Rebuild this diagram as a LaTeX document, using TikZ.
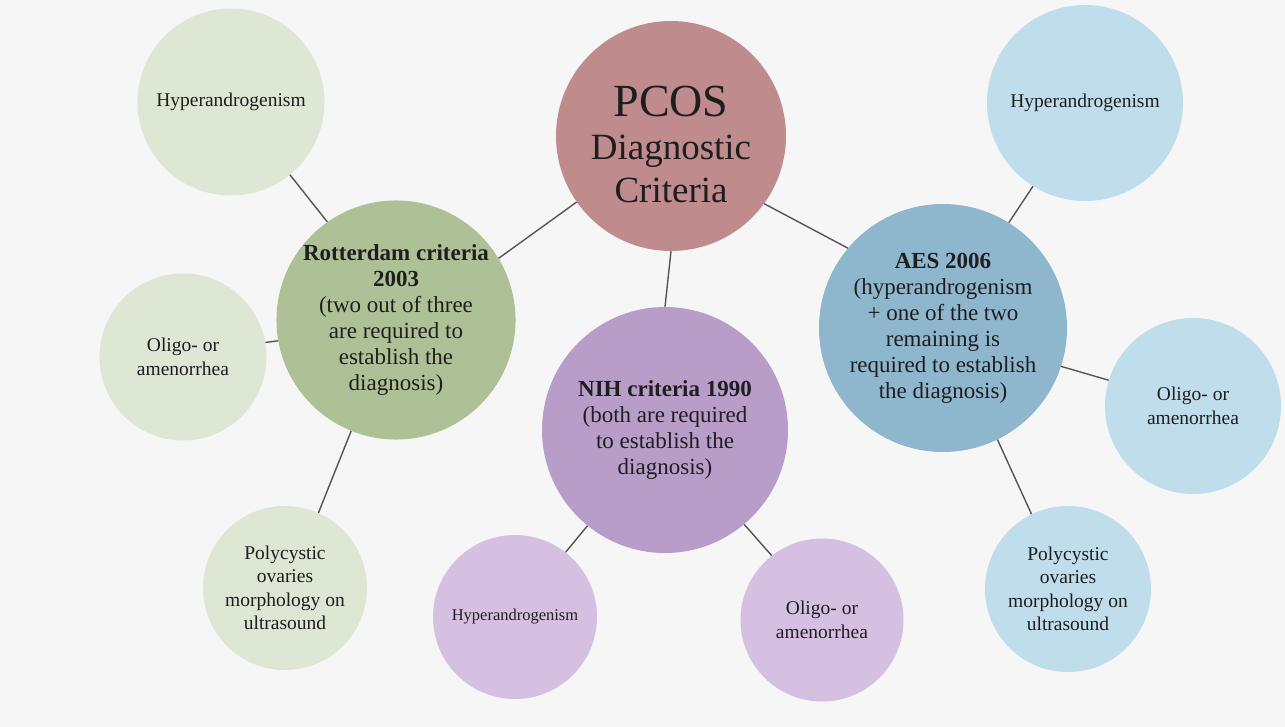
\documentclass[tikz,border=0pt]{standalone}
\usepackage{fontspec}
\setmainfont{Liberation Serif}
\definecolor{bg}{HTML}{F6F6F6}
\definecolor{pcosc}{HTML}{BF8B8D}
\definecolor{rotc}{HTML}{AEC196}
\definecolor{ltgreen}{HTML}{DDE7D4}
\definecolor{nihc}{HTML}{B99DC9}
\definecolor{ltpurple}{HTML}{D6C0E2}
\definecolor{aesc}{HTML}{8EB7CD}
\definecolor{ltblue}{HTML}{C0DDEB}
\definecolor{linec}{HTML}{555555}
\definecolor{txt}{HTML}{1E1E1E}
\tikzset{
  bubble/.style={circle, inner sep=0pt, align=center, text=txt},
  bigtext/.style={font=\fontsize{23}{26}\selectfont},
  smalltext/.style={font=\fontsize{19.5}{23.5}\selectfont},
  conn/.style={draw=linec, line width=1.4pt}
}
\begin{document}
\begin{tikzpicture}[x=1pt,y=-1pt]
\fill[bg] (0,0) rectangle (1285,727);
\useasboundingbox (0,0) rectangle (1285,727);
% main criteria
\node[bubble, fill=pcosc, minimum size=230pt] (pcos) at (671,136) {};
\node[align=center, text=txt, inner sep=0pt, font=\fontsize{37}{43}\selectfont] (pcostext) at (671,144)
  {{\fontsize{46}{48}\selectfont PCOS}\\Diagnostic\\Criteria};
\node[bubble, bigtext, fill=rotc, minimum size=236pt] (rot) at (396,320)
  {\textbf{Rotterdam criteria}\\\textbf{2003}\\(two out of three\\are required to\\establish the\\diagnosis)};
\node[bubble, bigtext, fill=nihc, minimum size=246pt] (nih) at (665,430)
  {\textbf{NIH criteria 1990}\\(both are required\\to establish the\\diagnosis)};
\node[bubble, bigtext, fill=aesc, minimum size=248pt] (aes) at (943,328)
  {\textbf{AES 2006}\\(hyperandrogenism\\+ one of the two\\remaining is\\required to establish\\the diagnosis)};
% Rotterdam children
\node[bubble, smalltext, fill=ltgreen, minimum size=187pt] (lhyp) at (231,102) {Hyperandrogenism};
\node[bubble, smalltext, fill=ltgreen, minimum size=167pt] (lol) at (183,357) {Oligo- or\\amenorrhea};
\node[bubble, smalltext, fill=ltgreen, minimum size=164pt] (lpoly) at (285,588) {Polycystic\\ovaries\\morphology on\\ultrasound};
% NIH children
\node[bubble, font=\fontsize{16.5}{20}\selectfont, fill=ltpurple, minimum size=164pt] (nhyp) at (515,617) {Hyperandrogenism};
\node[bubble, smalltext, fill=ltpurple, minimum size=163pt] (nol) at (822,620) {Oligo- or\\amenorrhea};
% AES children
\node[bubble, smalltext, fill=ltblue, minimum size=196pt] (rhyp) at (1085,103) {Hyperandrogenism};
\node[bubble, smalltext, fill=ltblue, minimum size=176pt] (rol) at (1193,406) {Oligo- or\\amenorrhea};
\node[bubble, smalltext, fill=ltblue, minimum size=166pt] (rpoly) at (1068,589) {Polycystic\\ovaries\\morphology on\\ultrasound};
% connectors
\draw[conn] (pcos.215) -- (rot.31);
\draw[conn] (pcos.south) -- (nih.north);
\draw[conn] (pcos.-36) -- (aes.140);
\draw[conn] (rot.125) -- (lhyp.-51);
\draw[conn] (rot.190) -- (lol.10);
\draw[conn] (rot.248) -- (lpoly.66);
\draw[conn] (nih.231) -- (nhyp.52);
\draw[conn] (nih.-50) -- (nol.128);
\draw[conn] (aes.58) -- (rhyp.238);
\draw[conn] (aes.-18) -- (rol.163);
\draw[conn] (aes.-64) -- (rpoly.116);
\end{tikzpicture}
\end{document}
